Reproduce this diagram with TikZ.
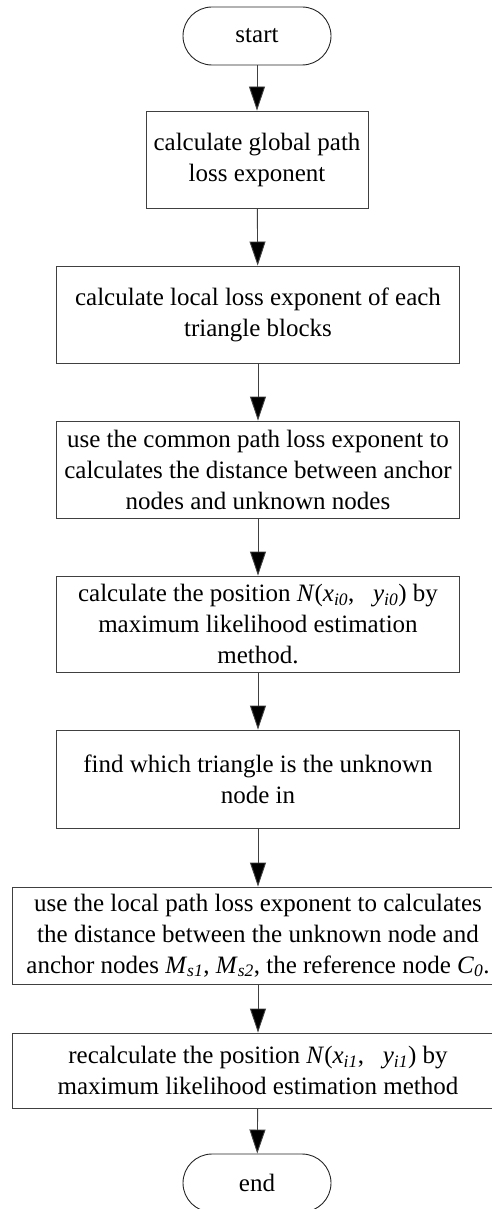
\documentclass[tikz,border=0pt]{standalone}
\usepackage{fontspec}
\setmainfont{Liberation Serif}
\usetikzlibrary{arrows.meta}
\tikzset{
  proc/.style={draw=black!75, line width=0.9pt, align=center, inner sep=0pt,
    font=\fontsize{25}{31}\selectfont},
  term/.style={draw=black!85, line width=0.9pt, rounded corners=29pt, align=center,
    minimum width=148pt, minimum height=58pt, inner sep=0pt,
    font=\fontsize{25}{31}\selectfont},
  flow/.style={draw=black!75, line width=0.9pt, -{Triangle[length=24pt,width=16pt,fill=black]}}
}
\newcommand{\sub}[1]{\textsubscript{\textit{#1}}}
\begin{document}
\begin{tikzpicture}[x=1pt,y=1pt]
\useasboundingbox (0,0) rectangle (491,-1209);
\node[term] (start) at (257,-36) {start};
\node[proc, minimum width=222pt, minimum height=97pt] (b1) at (257,-159.5)
  {calculate global path\\loss exponent};
\node[proc, minimum width=403pt, minimum height=97pt] (b2) at (258,-314.5)
  {calculate local loss exponent of each\\triangle blocks};
\node[proc, minimum width=403pt, minimum height=97pt] (b3) at (258,-469.5)
  {use the common path loss exponent to\\calculates the distance between anchor\\nodes and unknown nodes};
\node[proc, minimum width=403pt, minimum height=96pt] (b4) at (258,-624)
  {calculate the position \textit{N}(\textit{x}\sub{i0},~~~\textit{y}\sub{i0}) by\\maximum likelihood estimation\\method.};
\node[proc, minimum width=403pt, minimum height=98pt] (b5) at (258,-779)
  {find which triangle is the unknown\\node in};
\node[proc, minimum width=492pt, minimum height=97pt] (b6) at (258,-935.5)
  {use the local path loss exponent to calculates\\the distance between the unknown node and\\anchor nodes \textit{M}\sub{s1}, \textit{M}\sub{s2}, the reference node \textit{C}\sub{0}.};
\node[proc, minimum width=492pt, minimum height=75pt] (b7) at (258,-1070.5)
  {recalculate the position \textit{N}(\textit{x}\sub{i1},~~~\textit{y}\sub{i1}) by\\maximum likelihood estimation method};
\node[term] (end) at (257,-1183) {end};
\draw[flow] (start) -- (b1);
\draw[flow] (b1) -- (b2);
\draw[flow] (b2) -- (b3);
\draw[flow] (b3) -- (b4);
\draw[flow] (b4) -- (b5);
\draw[flow] (b5) -- (b6);
\draw[flow] (b6) -- (b7);
\draw[flow] (b7) -- (end);
\end{tikzpicture}
\end{document}
